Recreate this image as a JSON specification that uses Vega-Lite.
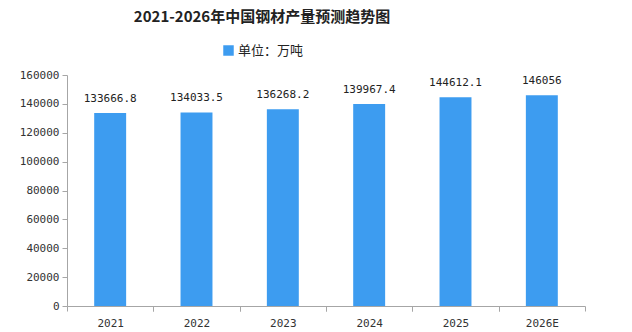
{
  "$schema": "https://vega.github.io/schema/vega-lite/v6.json",
  "width": 518,
  "height": 231,
  "autosize": {"type": "none"},
  "padding": {"left": 67, "top": 75, "right": 47, "bottom": 26},
  "background": "white",
  "view": {"stroke": null},
  "title": {
    "text": "2021-2026年中国钢材产量预测趋势图",
    "font": "Noto Sans CJK SC",
    "fontSize": 15,
    "fontWeight": "bold",
    "color": "#222222",
    "anchor": "middle",
    "dx": -64,
    "offset": 19
  },
  "data": {
    "values": [
      {"year": "2021", "value": 133666.8, "series": "单位：万吨"},
      {"year": "2022", "value": 134033.5, "series": "单位：万吨"},
      {"year": "2023", "value": 136268.2, "series": "单位：万吨"},
      {"year": "2024", "value": 139967.4, "series": "单位：万吨"},
      {"year": "2025", "value": 144612.1, "series": "单位：万吨"},
      {"year": "2026E", "value": 146056, "series": "单位：万吨"}
    ]
  },
  "encoding": {
    "y": {
      "field": "value",
      "type": "quantitative",
      "scale": {"domain": [0, 160000]},
      "axis": {
        "title": null,
        "values": [0, 20000, 40000, 60000, 80000, 100000, 120000, 140000, 160000],
        "format": "d",
        "grid": false,
        "labelFont": "DejaVu Sans Mono",
        "labelFontSize": 11,
        "labelColor": "#333333",
        "labelPadding": 3,
        "domainColor": "#a6a6a6",
        "tickColor": "#a6a6a6",
        "tickSize": 5
      }
    }
  },
  "resolve": {"axis": {"x": "independent"}},
  "layer": [
    {
      "mark": {"type": "bar", "color": "#3d9cf0"},
      "encoding": {
        "x": {
          "field": "year",
          "type": "nominal",
          "sort": null,
          "scale": {"paddingInner": 0.63, "paddingOuter": 0.315},
          "axis": {
            "title": null,
            "labelAngle": 0,
            "labelFont": "DejaVu Sans Mono",
            "labelFontSize": 11,
            "labelColor": "#333333",
            "labelPadding": 6,
            "domainColor": "#a6a6a6",
            "ticks": true,
            "tickColor": "#a6a6a6",
            "tickOffset": -43.17,
            "labelOffset": 43.17,
            "tickSize": 5,
            "tickWidth": 1
          }
        },
        "color": {
          "field": "series",
          "type": "nominal",
          "scale": {"range": ["#3d9cf0"]},
          "legend": {
            "title": null,
            "orient": "none",
            "legendX": 155,
            "legendY": -31,
            "symbolType": "square",
            "symbolSize": 110,
            "symbolStrokeWidth": 0,
            "labelFont": "Noto Sans CJK SC",
            "labelFontSize": 13,
            "labelColor": "#222222",
            "labelOffset": 3
          }
        }
      }
    },
    {
      "mark": {
        "type": "text",
        "baseline": "bottom",
        "dy": -9,
        "font": "DejaVu Sans Mono",
        "fontSize": 11,
        "color": "#222222"
      },
      "encoding": {
        "x": {
          "field": "year",
          "type": "nominal",
          "sort": null,
          "axis": {
            "title": null,
            "orient": "bottom",
            "labels": false,
            "domain": false,
            "ticks": true,
            "tickColor": "#a6a6a6",
            "tickOffset": 43.17,
            "tickSize": 5,
            "tickWidth": 1
          }
        },
        "text": {"field": "value", "type": "quantitative", "format": ".1~f"}
      }
    }
  ]
}
